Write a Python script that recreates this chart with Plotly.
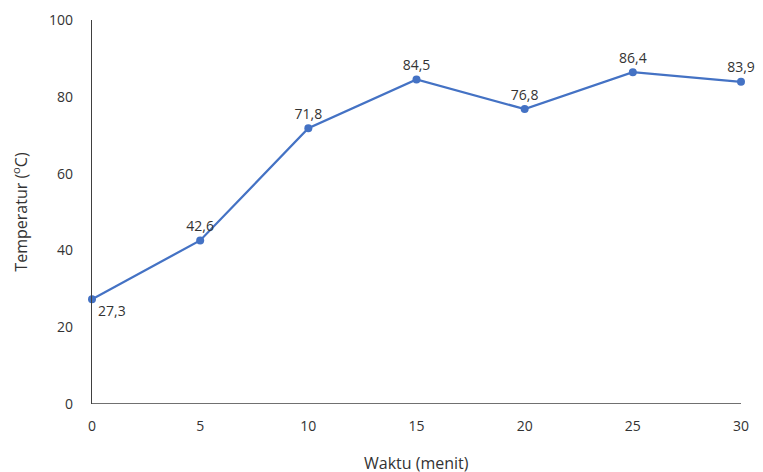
import plotly.graph_objects as go

waktu = [0, 5, 10, 15, 20, 25, 30]
suhu = [27.3, 42.6, 71.8, 84.5, 76.8, 86.4, 83.9]
label_teks = ["27,3", "42,6", "71,8", "84,5", "76,8", "86,4", "83,9"]
posisi_label = ["bottom right", "top center", "top center", "top center", "top center", "top center", "top center"]

font_fam = "Open Sans, Liberation Sans, sans-serif"
warna_teks = "#333333"

fig = go.Figure()
fig.add_trace(go.Scatter(
    x=waktu, y=suhu, mode="lines+markers+text",
    line=dict(color="#4472C4", width=2.25),
    marker=dict(color="#4472C4", size=8),
    text=label_teks, textposition=posisi_label,
    textfont=dict(family=font_fam, size=14, color=warna_teks),
    cliponaxis=False, showlegend=False,
))

fig.update_layout(
    width=747, height=464,
    margin=dict(l=84, r=14, t=12, b=68, autoexpand=False),
    paper_bgcolor="white", plot_bgcolor="white",
    font=dict(family=font_fam, size=14, color=warna_teks),
    xaxis=dict(
        range=[0, 30], tickvals=waktu, ticktext=[str(v) for v in waktu],
        showgrid=False, zeroline=False, showline=False, automargin=False,
        ticks="", ticklabelstandoff=12,
    ),
    yaxis=dict(
        range=[0, 100], tickvals=[0, 20, 40, 60, 80, 100],
        showgrid=False, zeroline=False, automargin=False,
        showline=True, linecolor="#404040", linewidth=1.3,
        ticks="", ticklabelstandoff=15,
        title=dict(text="Temperatur (<sup>o</sup>C)", font=dict(size=16), standoff=18),
    ),
    shapes=[dict(type="line", xref="paper", yref="y", x0=0, x1=1, y0=0, y1=0,
                 line=dict(color="#404040", width=1.3))],
    annotations=[dict(text="Waktu (menit)", xref="paper", yref="paper", x=0.5, y=0,
                      xanchor="center", yanchor="top", yshift=-46, showarrow=False,
                      font=dict(family=font_fam, size=16, color=warna_teks))],
)

fig.write_html("out.html")
